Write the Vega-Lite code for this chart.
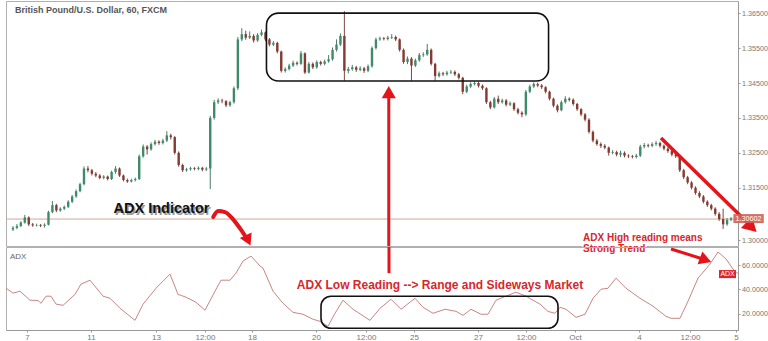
{
"$schema": "https://vega.github.io/schema/vega-lite/v6.json",
"background": "white",
"padding": {"left": 3, "top": 0, "right": 0, "bottom": 0},
"spacing": 1,
"bounds": "flush",
"config": {"font": "Liberation Sans", "view": {"stroke": "#b0b0b0", "strokeWidth": 1}},
"datasets": {
"candles": [
{"i":0,"o":1.3030,"h":1.3040,"l":1.3026,"c":1.3035},
{"i":1,"o":1.3035,"h":1.3046,"l":1.3031,"c":1.3040},
{"i":2,"o":1.3040,"h":1.3054,"l":1.3037,"c":1.3050},
{"i":3,"o":1.3050,"h":1.3072,"l":1.3047,"c":1.3065},
{"i":4,"o":1.3065,"h":1.3068,"l":1.3040,"c":1.3045},
{"i":5,"o":1.3045,"h":1.3049,"l":1.3038,"c":1.3042},
{"i":6,"o":1.3042,"h":1.3047,"l":1.3039,"c":1.3043},
{"i":7,"o":1.3043,"h":1.3046,"l":1.3037,"c":1.3041},
{"i":8,"o":1.3041,"h":1.3048,"l":1.3036,"c":1.3044},
{"i":9,"o":1.3044,"h":1.3084,"l":1.3042,"c":1.3080},
{"i":10,"o":1.3080,"h":1.3112,"l":1.3077,"c":1.3100},
{"i":11,"o":1.3100,"h":1.3104,"l":1.3080,"c":1.3085},
{"i":12,"o":1.3085,"h":1.3094,"l":1.3081,"c":1.3090},
{"i":13,"o":1.3090,"h":1.3099,"l":1.3086,"c":1.3095},
{"i":14,"o":1.3095,"h":1.3114,"l":1.3092,"c":1.3110},
{"i":15,"o":1.3110,"h":1.3129,"l":1.3106,"c":1.3125},
{"i":16,"o":1.3125,"h":1.3145,"l":1.3121,"c":1.3140},
{"i":17,"o":1.3140,"h":1.3164,"l":1.3137,"c":1.3160},
{"i":18,"o":1.3160,"h":1.3211,"l":1.3157,"c":1.3205},
{"i":19,"o":1.3205,"h":1.3212,"l":1.3194,"c":1.3200},
{"i":20,"o":1.3200,"h":1.3204,"l":1.3185,"c":1.3190},
{"i":21,"o":1.3190,"h":1.3195,"l":1.3180,"c":1.3185},
{"i":22,"o":1.3185,"h":1.3189,"l":1.3174,"c":1.3178},
{"i":23,"o":1.3178,"h":1.3186,"l":1.3174,"c":1.3182},
{"i":24,"o":1.3182,"h":1.3185,"l":1.3171,"c":1.3175},
{"i":25,"o":1.3175,"h":1.3199,"l":1.3172,"c":1.3195},
{"i":26,"o":1.3195,"h":1.3212,"l":1.3190,"c":1.3205},
{"i":27,"o":1.3205,"h":1.3208,"l":1.3181,"c":1.3185},
{"i":28,"o":1.3185,"h":1.3188,"l":1.3168,"c":1.3172},
{"i":29,"o":1.3172,"h":1.3176,"l":1.3164,"c":1.3168},
{"i":30,"o":1.3168,"h":1.3176,"l":1.3165,"c":1.3172},
{"i":31,"o":1.3172,"h":1.3179,"l":1.3168,"c":1.3175},
{"i":32,"o":1.3175,"h":1.3245,"l":1.3172,"c":1.3240},
{"i":33,"o":1.3240,"h":1.3274,"l":1.3236,"c":1.3268},
{"i":34,"o":1.3268,"h":1.3272,"l":1.3245,"c":1.3260},
{"i":35,"o":1.3260,"h":1.3280,"l":1.3256,"c":1.3275},
{"i":36,"o":1.3275,"h":1.3287,"l":1.3271,"c":1.3282},
{"i":37,"o":1.3282,"h":1.3286,"l":1.3273,"c":1.3278},
{"i":38,"o":1.3278,"h":1.3290,"l":1.3274,"c":1.3285},
{"i":39,"o":1.3285,"h":1.3312,"l":1.3281,"c":1.3300},
{"i":40,"o":1.3300,"h":1.3305,"l":1.3288,"c":1.3295},
{"i":41,"o":1.3295,"h":1.3298,"l":1.3245,"c":1.3250},
{"i":42,"o":1.3250,"h":1.3254,"l":1.3210,"c":1.3215},
{"i":43,"o":1.3215,"h":1.3219,"l":1.3195,"c":1.3200},
{"i":44,"o":1.3200,"h":1.3207,"l":1.3196,"c":1.3203},
{"i":45,"o":1.3203,"h":1.3210,"l":1.3199,"c":1.3206},
{"i":46,"o":1.3206,"h":1.3209,"l":1.3200,"c":1.3204},
{"i":47,"o":1.3204,"h":1.3211,"l":1.3200,"c":1.3207},
{"i":48,"o":1.3207,"h":1.3210,"l":1.3197,"c":1.3202},
{"i":49,"o":1.3202,"h":1.3209,"l":1.3198,"c":1.3205},
{"i":50,"o":1.3205,"h":1.3356,"l":1.3146,"c":1.3350},
{"i":51,"o":1.3350,"h":1.3402,"l":1.3345,"c":1.3395},
{"i":52,"o":1.3395,"h":1.3406,"l":1.3390,"c":1.3400},
{"i":53,"o":1.3400,"h":1.3405,"l":1.3392,"c":1.3398},
{"i":54,"o":1.3398,"h":1.3401,"l":1.3381,"c":1.3386},
{"i":55,"o":1.3386,"h":1.3399,"l":1.3382,"c":1.3395},
{"i":56,"o":1.3395,"h":1.3440,"l":1.3391,"c":1.3435},
{"i":57,"o":1.3435,"h":1.3582,"l":1.3430,"c":1.3575},
{"i":58,"o":1.3575,"h":1.3607,"l":1.3570,"c":1.3590},
{"i":59,"o":1.3590,"h":1.3600,"l":1.3574,"c":1.3580},
{"i":60,"o":1.3580,"h":1.3598,"l":1.3576,"c":1.3585},
{"i":61,"o":1.3585,"h":1.3590,"l":1.3566,"c":1.3572},
{"i":62,"o":1.3572,"h":1.3593,"l":1.3568,"c":1.3588},
{"i":63,"o":1.3588,"h":1.3603,"l":1.3584,"c":1.3595},
{"i":64,"o":1.3595,"h":1.3598,"l":1.3570,"c":1.3575},
{"i":65,"o":1.3575,"h":1.3579,"l":1.3555,"c":1.3560},
{"i":66,"o":1.3560,"h":1.3570,"l":1.3556,"c":1.3565},
{"i":67,"o":1.3565,"h":1.3568,"l":1.3535,"c":1.3540},
{"i":68,"o":1.3540,"h":1.3543,"l":1.3480,"c":1.3485},
{"i":69,"o":1.3485,"h":1.3495,"l":1.3480,"c":1.3490},
{"i":70,"o":1.3490,"h":1.3505,"l":1.3486,"c":1.3500},
{"i":71,"o":1.3500,"h":1.3514,"l":1.3496,"c":1.3508},
{"i":72,"o":1.3508,"h":1.3512,"l":1.3500,"c":1.3505},
{"i":73,"o":1.3505,"h":1.3542,"l":1.3502,"c":1.3535},
{"i":74,"o":1.3535,"h":1.3538,"l":1.3476,"c":1.3480},
{"i":75,"o":1.3480,"h":1.3510,"l":1.3477,"c":1.3505},
{"i":76,"o":1.3505,"h":1.3509,"l":1.3490,"c":1.3495},
{"i":77,"o":1.3495,"h":1.3515,"l":1.3491,"c":1.3510},
{"i":78,"o":1.3510,"h":1.3514,"l":1.3500,"c":1.3505},
{"i":79,"o":1.3505,"h":1.3517,"l":1.3501,"c":1.3512},
{"i":80,"o":1.3512,"h":1.3530,"l":1.3508,"c":1.3518},
{"i":81,"o":1.3518,"h":1.3552,"l":1.3514,"c":1.3545},
{"i":82,"o":1.3545,"h":1.3575,"l":1.3540,"c":1.3560},
{"i":83,"o":1.3560,"h":1.3592,"l":1.3556,"c":1.3585},
{"i":84,"o":1.3585,"h":1.3656,"l":1.3456,"c":1.3485},
{"i":85,"o":1.3485,"h":1.3496,"l":1.3478,"c":1.3490},
{"i":86,"o":1.3490,"h":1.3502,"l":1.3485,"c":1.3495},
{"i":87,"o":1.3495,"h":1.3499,"l":1.3482,"c":1.3488},
{"i":88,"o":1.3488,"h":1.3498,"l":1.3484,"c":1.3492},
{"i":89,"o":1.3492,"h":1.3496,"l":1.3479,"c":1.3485},
{"i":90,"o":1.3485,"h":1.3503,"l":1.3481,"c":1.3498},
{"i":91,"o":1.3498,"h":1.3555,"l":1.3494,"c":1.3550},
{"i":92,"o":1.3550,"h":1.3580,"l":1.3546,"c":1.3575},
{"i":93,"o":1.3575,"h":1.3583,"l":1.3571,"c":1.3578},
{"i":94,"o":1.3578,"h":1.3582,"l":1.3572,"c":1.3576},
{"i":95,"o":1.3576,"h":1.3585,"l":1.3572,"c":1.3580},
{"i":96,"o":1.3580,"h":1.3590,"l":1.3576,"c":1.3582},
{"i":97,"o":1.3582,"h":1.3586,"l":1.3570,"c":1.3575},
{"i":98,"o":1.3575,"h":1.3578,"l":1.3540,"c":1.3545},
{"i":99,"o":1.3545,"h":1.3549,"l":1.3505,"c":1.3510},
{"i":100,"o":1.3510,"h":1.3526,"l":1.3504,"c":1.3520},
{"i":101,"o":1.3520,"h":1.3524,"l":1.3456,"c":1.3500},
{"i":102,"o":1.3500,"h":1.3520,"l":1.3496,"c":1.3515},
{"i":103,"o":1.3515,"h":1.3536,"l":1.3511,"c":1.3530},
{"i":104,"o":1.3530,"h":1.3538,"l":1.3525,"c":1.3532},
{"i":105,"o":1.3532,"h":1.3562,"l":1.3528,"c":1.3545},
{"i":106,"o":1.3545,"h":1.3549,"l":1.3500,"c":1.3505},
{"i":107,"o":1.3505,"h":1.3508,"l":1.3456,"c":1.3470},
{"i":108,"o":1.3470,"h":1.3483,"l":1.3466,"c":1.3478},
{"i":109,"o":1.3478,"h":1.3482,"l":1.3470,"c":1.3475},
{"i":110,"o":1.3475,"h":1.3485,"l":1.3471,"c":1.3480},
{"i":111,"o":1.3480,"h":1.3487,"l":1.3476,"c":1.3482},
{"i":112,"o":1.3482,"h":1.3486,"l":1.3470,"c":1.3475},
{"i":113,"o":1.3475,"h":1.3479,"l":1.3460,"c":1.3465},
{"i":114,"o":1.3465,"h":1.3468,"l":1.3418,"c":1.3425},
{"i":115,"o":1.3425,"h":1.3445,"l":1.3421,"c":1.3440},
{"i":116,"o":1.3440,"h":1.3452,"l":1.3436,"c":1.3447},
{"i":117,"o":1.3447,"h":1.3455,"l":1.3443,"c":1.3450},
{"i":118,"o":1.3450,"h":1.3454,"l":1.3437,"c":1.3442},
{"i":119,"o":1.3442,"h":1.3446,"l":1.3430,"c":1.3435},
{"i":120,"o":1.3435,"h":1.3438,"l":1.3390,"c":1.3395},
{"i":121,"o":1.3395,"h":1.3399,"l":1.3375,"c":1.3380},
{"i":122,"o":1.3380,"h":1.3410,"l":1.3377,"c":1.3405},
{"i":123,"o":1.3405,"h":1.3414,"l":1.3390,"c":1.3395},
{"i":124,"o":1.3395,"h":1.3405,"l":1.3391,"c":1.3400},
{"i":125,"o":1.3400,"h":1.3404,"l":1.3383,"c":1.3388},
{"i":126,"o":1.3388,"h":1.3397,"l":1.3384,"c":1.3392},
{"i":127,"o":1.3392,"h":1.3395,"l":1.3370,"c":1.3375},
{"i":128,"o":1.3375,"h":1.3379,"l":1.3360,"c":1.3365},
{"i":129,"o":1.3365,"h":1.3369,"l":1.3352,"c":1.3360},
{"i":130,"o":1.3360,"h":1.3430,"l":1.3356,"c":1.3425},
{"i":131,"o":1.3425,"h":1.3445,"l":1.3421,"c":1.3440},
{"i":132,"o":1.3440,"h":1.3452,"l":1.3436,"c":1.3447},
{"i":133,"o":1.3447,"h":1.3451,"l":1.3438,"c":1.3443},
{"i":134,"o":1.3443,"h":1.3447,"l":1.3433,"c":1.3438},
{"i":135,"o":1.3438,"h":1.3441,"l":1.3420,"c":1.3425},
{"i":136,"o":1.3425,"h":1.3428,"l":1.3400,"c":1.3405},
{"i":137,"o":1.3405,"h":1.3408,"l":1.3380,"c":1.3385},
{"i":138,"o":1.3385,"h":1.3389,"l":1.3366,"c":1.3372},
{"i":139,"o":1.3372,"h":1.3400,"l":1.3369,"c":1.3395},
{"i":140,"o":1.3395,"h":1.3412,"l":1.3391,"c":1.3405},
{"i":141,"o":1.3405,"h":1.3409,"l":1.3397,"c":1.3402},
{"i":142,"o":1.3402,"h":1.3406,"l":1.3385,"c":1.3390},
{"i":143,"o":1.3390,"h":1.3393,"l":1.3370,"c":1.3375},
{"i":144,"o":1.3375,"h":1.3378,"l":1.3355,"c":1.3360},
{"i":145,"o":1.3360,"h":1.3364,"l":1.3340,"c":1.3345},
{"i":146,"o":1.3345,"h":1.3349,"l":1.3305,"c":1.3310},
{"i":147,"o":1.3310,"h":1.3314,"l":1.3280,"c":1.3285},
{"i":148,"o":1.3285,"h":1.3290,"l":1.3270,"c":1.3275},
{"i":149,"o":1.3275,"h":1.3280,"l":1.3264,"c":1.3270},
{"i":150,"o":1.3270,"h":1.3275,"l":1.3260,"c":1.3265},
{"i":151,"o":1.3265,"h":1.3268,"l":1.3242,"c":1.3250},
{"i":152,"o":1.3250,"h":1.3258,"l":1.3246,"c":1.3252},
{"i":153,"o":1.3252,"h":1.3256,"l":1.3240,"c":1.3245},
{"i":154,"o":1.3245,"h":1.3256,"l":1.3238,"c":1.3250},
{"i":155,"o":1.3250,"h":1.3254,"l":1.3237,"c":1.3242},
{"i":156,"o":1.3242,"h":1.3246,"l":1.3235,"c":1.3240},
{"i":157,"o":1.3240,"h":1.3244,"l":1.3234,"c":1.3238},
{"i":158,"o":1.3238,"h":1.3247,"l":1.3234,"c":1.3242},
{"i":159,"o":1.3242,"h":1.3273,"l":1.3238,"c":1.3268},
{"i":160,"o":1.3268,"h":1.3278,"l":1.3263,"c":1.3272},
{"i":161,"o":1.3272,"h":1.3276,"l":1.3265,"c":1.3270},
{"i":162,"o":1.3270,"h":1.3280,"l":1.3266,"c":1.3275},
{"i":163,"o":1.3275,"h":1.3284,"l":1.3270,"c":1.3278},
{"i":164,"o":1.3278,"h":1.3282,"l":1.3265,"c":1.3270},
{"i":165,"o":1.3270,"h":1.3274,"l":1.3257,"c":1.3262},
{"i":166,"o":1.3262,"h":1.3266,"l":1.3250,"c":1.3255},
{"i":167,"o":1.3255,"h":1.3259,"l":1.3240,"c":1.3245},
{"i":168,"o":1.3245,"h":1.3249,"l":1.3235,"c":1.3240},
{"i":169,"o":1.3240,"h":1.3243,"l":1.3195,"c":1.3200},
{"i":170,"o":1.3200,"h":1.3204,"l":1.3175,"c":1.3180},
{"i":171,"o":1.3180,"h":1.3184,"l":1.3160,"c":1.3165},
{"i":172,"o":1.3165,"h":1.3169,"l":1.3145,"c":1.3150},
{"i":173,"o":1.3150,"h":1.3154,"l":1.3130,"c":1.3135},
{"i":174,"o":1.3135,"h":1.3140,"l":1.3120,"c":1.3125},
{"i":175,"o":1.3125,"h":1.3129,"l":1.3105,"c":1.3110},
{"i":176,"o":1.3110,"h":1.3114,"l":1.3095,"c":1.3100},
{"i":177,"o":1.3100,"h":1.3104,"l":1.3085,"c":1.3090},
{"i":178,"o":1.3090,"h":1.3094,"l":1.3070,"c":1.3075},
{"i":179,"o":1.3075,"h":1.3080,"l":1.3055,"c":1.3060},
{"i":180,"o":1.3060,"h":1.3090,"l":1.3032,"c":1.3045},
{"i":181,"o":1.3045,"h":1.3063,"l":1.3041,"c":1.3058},
{"i":182,"o":1.3058,"h":1.3066,"l":1.3054,"c":1.3062}
],
"adx": [
{"i":-0.5,"a":41.1},{"i":1.25,"a":37},{"i":3,"a":38.6},{"i":5.5,"a":31.2},{"i":7.5,"a":31},{"i":8.25,"a":28.7},{"i":9.5,"a":34.5},{"i":10.75,"a":34.5},{"i":12,"a":28},{"i":13.75,"a":27},{"i":16.75,"a":36},{"i":18.25,"a":44.4},{"i":20.5,"a":47.6},{"i":23.75,"a":34.5},{"i":25.5,"a":32.8},{"i":28,"a":24.6},{"i":31.75,"a":14.7},{"i":33.75,"a":27.9},{"i":37,"a":41},{"i":40.5,"a":52.6},{"i":42.5,"a":36},{"i":44.5,"a":33.7},{"i":47,"a":29.5},{"i":49.25,"a":23},{"i":51.75,"a":38.6},{"i":53.25,"a":47.6},{"i":55.5,"a":47.6},{"i":57,"a":53.4},{"i":58.75,"a":63.3},{"i":60.75,"a":67.4},{"i":63,"a":59.2},{"i":63.75,"a":57.5},{"i":66.25,"a":38.6},{"i":68.75,"a":28.7},{"i":71.25,"a":21.3},{"i":73.75,"a":19.7},{"i":76.25,"a":15.6},{"i":78,"a":13.9},{"i":80,"a":9.8},{"i":81.75,"a":20.5},{"i":83.75,"a":31.2},{"i":86.25,"a":23.8},{"i":90.5,"a":14.7},{"i":93,"a":24.6},{"i":95.75,"a":32},{"i":98.25,"a":23.8},{"i":101.75,"a":32.8},{"i":103.75,"a":25.4},{"i":106.25,"a":20.5},{"i":109.25,"a":23.8},{"i":112,"a":22.1},{"i":113.75,"a":18.8},{"i":115.75,"a":23.8},{"i":118.25,"a":19.7},{"i":120,"a":19.7},{"i":122,"a":31.2},{"i":124.5,"a":34.5},{"i":127,"a":37.8},{"i":129.5,"a":34.5},{"i":133,"a":28},{"i":135,"a":22},{"i":136.75,"a":20.5},{"i":138,"a":25.4},{"i":139.5,"a":23.8},{"i":142,"a":17.2},{"i":144.25,"a":19.7},{"i":146.25,"a":32.8},{"i":148.25,"a":40.2},{"i":150,"a":41},{"i":152,"a":49.3},{"i":154.5,"a":41},{"i":158,"a":32.8},{"i":161.25,"a":26.3},{"i":164.5,"a":18},{"i":165.75,"a":16.4},{"i":168,"a":16.4},{"i":170,"a":30.4},{"i":172.5,"a":49.3},{"i":175.5,"a":60.8},{"i":177.5,"a":70.7},{"i":179.5,"a":65},{"i":181.25,"a":56.7},{"i":182.5,"a":53}
]
},
"vconcat": [
{
"width": 732, "height": 245,
"layer": [
{"data": {"values": [{"p": 1.30602}]},
 "mark": {"type": "rule", "color": "#cfa898", "strokeWidth": 1},
 "encoding": {"y": {"field": "p", "type": "quantitative", "title": null,
   "scale": {"domain": [1.2983, 1.3685], "nice": false, "zero": false},
   "axis": {"orient": "right", "values": [1.300,1.310,1.315,1.320,1.325,1.330,1.335,1.340,1.345,1.350,1.355,1.360,1.365], "format": ".5f", "labelFontSize": 7.2, "labelColor": "#777", "tickColor": "#999", "domainColor": "#999", "tickSize": 2, "labelPadding": 1.5, "grid": false, "title": null}}}},
{"data": {"name": "candles"},
 "mark": {"type": "rule", "strokeWidth": 1},
 "encoding": {
   "x": {"field": "i", "type": "quantitative", "scale": {"domain": [-0.5, 182.5], "nice": false, "zero": false}, "axis": null},
   "y": {"field": "l", "type": "quantitative"}, "y2": {"field": "h"},
   "color": {"condition": {"test": "datum.c >= datum.o", "value": "#4a7f67"}, "value": "#7a4a40"}}},
{"data": {"name": "candles"},
 "mark": {"type": "bar", "width": 2.4},
 "encoding": {
   "x": {"field": "i", "type": "quantitative"},
   "y": {"field": "o", "type": "quantitative"}, "y2": {"field": "c"},
   "color": {"condition": {"test": "datum.c >= datum.o", "value": "#3f8a68"}, "value": "#843a30"}}},
{"data": {"values": [{"x1": 64.25, "x2": 135.75, "y1": 1.36504, "y2": 1.34556}]},
 "mark": {"type": "rect", "cornerRadius": 12, "fill": "transparent", "stroke": "#111", "strokeWidth": 1.6},
 "encoding": {"x": {"field": "x1", "type": "quantitative"}, "x2": {"field": "x2"}, "y": {"field": "y1", "type": "quantitative"}, "y2": {"field": "y2"}}},
{"data": {"values": [{"x": 95.25, "y1": 1.2983, "y2": 1.3412}]},
 "mark": {"type": "rule", "color": "#e4141b", "strokeWidth": 3},
 "encoding": {"x": {"field": "x", "type": "quantitative"}, "y": {"field": "y1", "type": "quantitative"}, "y2": {"field": "y2"}}},
{"data": {"values": [{"x": 95.25, "y": 1.3424}]},
 "mark": {"type": "point", "shape": "triangle-up", "size": 200, "filled": true, "color": "#e4141b", "opacity": 1},
 "encoding": {"x": {"field": "x", "type": "quantitative"}, "y": {"field": "y", "type": "quantitative"}}},
{"data": {"values": [{"x": 0.5, "y": 1.3659, "t": "British Pound/U.S. Dollar, 60, FXCM"}]},
 "mark": {"type": "text", "align": "left", "baseline": "middle", "fontSize": 9, "fontWeight": "bold", "color": "#555"},
 "encoding": {"x": {"field": "x", "type": "quantitative"}, "y": {"field": "y", "type": "quantitative"}, "text": {"field": "t"}}},
{"data": {"values": [{"x": 25.5, "y": 1.30888, "t": "ADX Indicator"}]},
 "mark": {"type": "text", "align": "left", "baseline": "middle", "fontSize": 14.5, "fontWeight": "bold", "color": "#9a9a9a", "dx": 1.5, "dy": 1.5},
 "encoding": {"x": {"field": "x", "type": "quantitative"}, "y": {"field": "y", "type": "quantitative"}, "text": {"field": "t"}}},
{"data": {"values": [{"x": 25.5, "y": 1.30888, "t": "ADX Indicator"}]},
 "mark": {"type": "text", "align": "left", "baseline": "middle", "fontSize": 14.5, "fontWeight": "bold", "color": "#111"},
 "encoding": {"x": {"field": "x", "type": "quantitative"}, "y": {"field": "y", "type": "quantitative"}, "text": {"field": "t"}}},
{"data": {"values": [{"k": 1, "x": 50.75, "y": 1.30659}, {"k": 2, "x": 52, "y": 1.30831}, {"k": 3, "x": 53.75, "y": 1.30802}, {"k": 4, "x": 55.75, "y": 1.30602}, {"k": 5, "x": 57.5, "y": 1.30344}, {"k": 6, "x": 58.9, "y": 1.3011}]},
 "mark": {"type": "line", "color": "#e4141b", "strokeWidth": 4, "interpolate": "monotone", "strokeCap": "round"},
 "encoding": {"x": {"field": "x", "type": "quantitative"}, "y": {"field": "y", "type": "quantitative"}, "order": {"field": "k"}}},
{"data": {"values": [{"x": 59.6, "y": 1.2999}]},
 "mark": {"type": "point", "shape": "triangle-down", "size": 170, "angle": -25, "filled": true, "color": "#e4141b", "opacity": 1},
 "encoding": {"x": {"field": "x", "type": "quantitative"}, "y": {"field": "y", "type": "quantitative"}}},
{"data": {"values": [{"k": 1, "x": 164.25, "y": 1.32923}, {"k": 2, "x": 186.0, "y": 1.30515}]},
 "mark": {"type": "line", "color": "#e4141b", "strokeWidth": 3.5, "clip": false},
 "encoding": {"x": {"field": "x", "type": "quantitative"}, "y": {"field": "y", "type": "quantitative"}, "order": {"field": "k"}}},
{"data": {"values": [{"x": 187.2, "y": 1.30372}]},
 "mark": {"type": "point", "shape": "triangle-right", "size": 260, "angle": 44, "filled": true, "color": "#e4141b", "opacity": 1},
 "encoding": {"x": {"field": "x", "type": "quantitative"}, "y": {"field": "y", "type": "quantitative"}}},
{"data": {"values": [{"x1": 182.6, "x2": 190.3, "y1": 1.30745, "y2": 1.30487}]},
 "mark": {"type": "rect", "fill": "#cf6256", "opacity": 0.9},
 "encoding": {"x": {"field": "x1", "type": "quantitative"}, "x2": {"field": "x2"}, "y": {"field": "y1", "type": "quantitative"}, "y2": {"field": "y2"}}},
{"data": {"values": [{"x": 186.4, "y": 1.30616, "t": "1.30602"}]},
 "mark": {"type": "text", "align": "center", "baseline": "middle", "fontSize": 7.2, "color": "white"},
 "encoding": {"x": {"field": "x", "type": "quantitative"}, "y": {"field": "y", "type": "quantitative"}, "text": {"field": "t"}}},
{"data": {"values": [{"x": 144.5, "y": 1.30057, "t": "ADX High reading means"}, {"x": 144.5, "y": 1.29742, "t": "Strong Trend"}]},
 "mark": {"type": "text", "align": "left", "baseline": "middle", "fontSize": 10, "fontWeight": "bold", "color": "white", "stroke": "white", "strokeWidth": 3},
 "encoding": {"x": {"field": "x", "type": "quantitative"}, "y": {"field": "y", "type": "quantitative"}, "text": {"field": "t"}}},
{"data": {"values": [{"x": 144.5, "y": 1.30057, "t": "ADX High reading means"}, {"x": 144.5, "y": 1.29742, "t": "Strong Trend"}]},
 "mark": {"type": "text", "align": "left", "baseline": "middle", "fontSize": 10, "fontWeight": "bold", "color": "#d8262b"},
 "encoding": {"x": {"field": "x", "type": "quantitative"}, "y": {"field": "y", "type": "quantitative"}, "text": {"field": "t"}}}
]
},
{
"width": 732, "height": 83,
"layer": [
{"data": {"name": "adx"},
 "mark": {"type": "line", "color": "#c98683", "strokeWidth": 1},
 "encoding": {
   "x": {"field": "i", "type": "quantitative", "scale": {"domain": [-0.5, 182.5], "nice": false, "zero": false},
     "axis": {"values": [4.75,20.75,37,49.25,61,77,89.5,101.5,117.5,129.5,141.75,157.75,170.5,182], "labelExpr": "['7','11','13','12:00','18','20','12:00','25','27','12:00','Oct','4','12:00','5'][indexof([4.75,20.75,37,49.25,61,77,89.5,101.5,117.5,129.5,141.75,157.75,170.5,182], datum.value)]", "labelFontSize": 8, "labelColor": "#777", "tickColor": "#999", "domainColor": "#999", "tickSize": 2, "labelPadding": 1, "grid": false, "title": null, "labelFlush": false, "labelOverlap": false}},
   "y": {"field": "a", "type": "quantitative", "scale": {"domain": [6.8, 74.8], "nice": false, "zero": false},
     "axis": {"orient": "right", "values": [20, 40, 60], "format": ".4f", "labelFontSize": 7.2, "labelColor": "#777", "tickColor": "#999", "domainColor": "#999", "tickSize": 2, "labelPadding": 1.5, "grid": false, "title": null}}}},
{"data": {"values": [{"x": 0.5, "y": 66.6, "t": "ADX"}]},
 "mark": {"type": "text", "align": "left", "baseline": "middle", "fontSize": 8, "color": "#666"},
 "encoding": {"x": {"field": "x", "type": "quantitative"}, "y": {"field": "y", "type": "quantitative"}, "text": {"field": "t"}}},
{"data": {"values": [{"x1": 78.25, "x2": 137.5, "y1": 34.5, "y2": 8.2}]},
 "mark": {"type": "rect", "cornerRadius": 10, "fill": "transparent", "stroke": "#111", "strokeWidth": 1.6},
 "encoding": {"x": {"field": "x1", "type": "quantitative"}, "x2": {"field": "x2"}, "y": {"field": "y1", "type": "quantitative"}, "y2": {"field": "y2"}}},
{"data": {"values": [{"x": 95.25, "y1": 74.8, "y2": 53.4}]},
 "mark": {"type": "rule", "color": "#e4141b", "strokeWidth": 3},
 "encoding": {"x": {"field": "x", "type": "quantitative"}, "y": {"field": "y1", "type": "quantitative"}, "y2": {"field": "y2"}}},
{"data": {"values": [{"x": 108, "y": 43.5, "t": "ADX Low Reading --> Range and Sideways Market"}]},
 "mark": {"type": "text", "align": "center", "baseline": "middle", "fontSize": 12, "fontWeight": "bold", "color": "white", "stroke": "white", "strokeWidth": 3},
 "encoding": {"x": {"field": "x", "type": "quantitative"}, "y": {"field": "y", "type": "quantitative"}, "text": {"field": "t"}}},
{"data": {"values": [{"x": 108, "y": 43.5, "t": "ADX Low Reading --> Range and Sideways Market"}]},
 "mark": {"type": "text", "align": "center", "baseline": "middle", "fontSize": 12, "fontWeight": "bold", "color": "#d8262b"},
 "encoding": {"x": {"field": "x", "type": "quantitative"}, "y": {"field": "y", "type": "quantitative"}, "text": {"field": "t"}}},
{"data": {"values": [{"k": 1, "x": 165.75, "y": 73.2}, {"k": 2, "x": 173.5, "y": 65.2}]},
 "mark": {"type": "line", "color": "#e4141b", "strokeWidth": 3, "clip": false},
 "encoding": {"x": {"field": "x", "type": "quantitative"}, "y": {"field": "y", "type": "quantitative"}, "order": {"field": "k"}}},
{"data": {"values": [{"x": 174.4, "y": 64.2}]},
 "mark": {"type": "point", "shape": "triangle-right", "size": 190, "angle": 20, "filled": true, "color": "#e4141b", "opacity": 1},
 "encoding": {"x": {"field": "x", "type": "quantitative"}, "y": {"field": "y", "type": "quantitative"}}},
{"data": {"values": [{"x1": 177.75, "x2": 182, "y1": 55.9, "y2": 49.3}]},
 "mark": {"type": "rect", "fill": "#d9262b"},
 "encoding": {"x": {"field": "x1", "type": "quantitative"}, "x2": {"field": "x2"}, "y": {"field": "y1", "type": "quantitative"}, "y2": {"field": "y2"}}},
{"data": {"values": [{"x": 179.9, "y": 52.6, "t": "ADX"}]},
 "mark": {"type": "text", "align": "center", "baseline": "middle", "fontSize": 7, "color": "white"},
 "encoding": {"x": {"field": "x", "type": "quantitative"}, "y": {"field": "y", "type": "quantitative"}, "text": {"field": "t"}}}
]
}
]
}
